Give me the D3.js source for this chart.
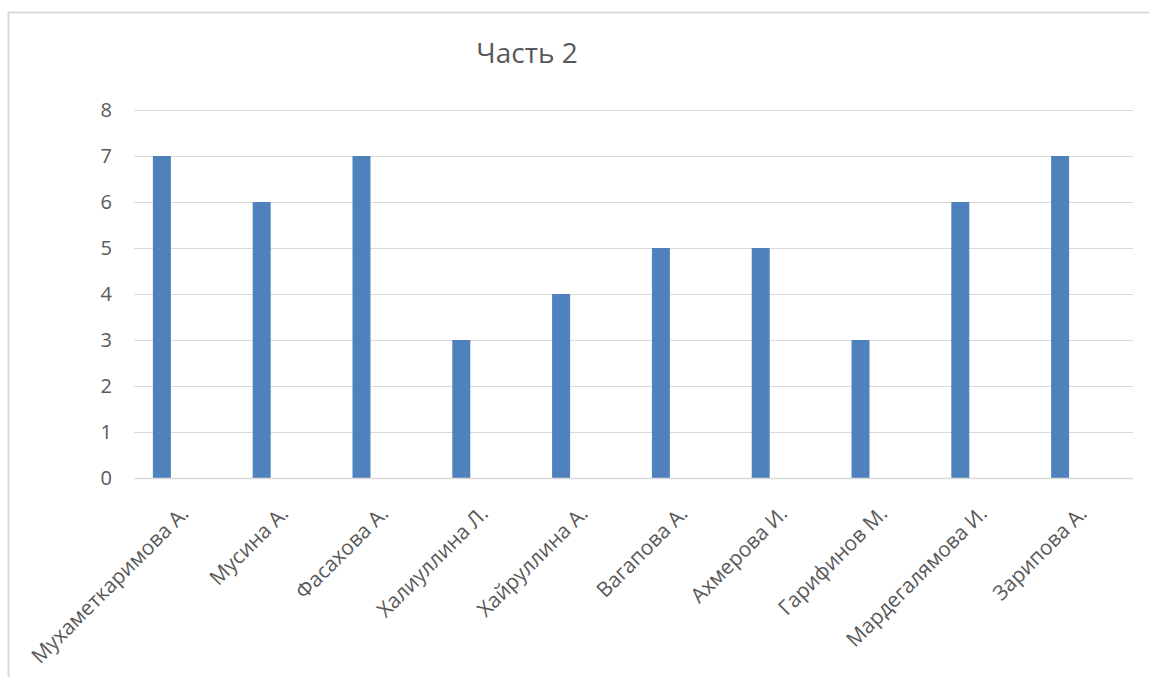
<!DOCTYPE html>
<html><head><meta charset="utf-8">
<script src="https://cdn.jsdelivr.net/npm/d3@7"></script>
<style>body{margin:0;background:#fff;}svg{display:block;}</style>
</head><body>
<svg id="c" width="1149" height="677"></svg>
<script>
const categories = ["Мухаметкаримова А.","Мусина А.","Фасахова А.","Халиуллина Л.","Хайруллина А.","Вагапова А.","Ахмерова И.","Гарифинов М.","Мардегалямова И.","Зарипова А."];
const values = [7,6,7,3,4,5,5,3,6,7];
const yTicks = [0,1,2,3,4,5,6,7,8];
const title = "Часть 2";

const svg = d3.select("#c");
const font = "'Open Sans', 'Noto Sans', sans-serif";
svg.append("rect").attr("x",8.5).attr("y",12.5).attr("width",1160).attr("height",700)
  .attr("fill","#fff").attr("stroke","#d9d9d9").attr("stroke-width",2);

const y = d3.scaleLinear().domain([0,8]).range([478,110]);
const x = d3.scaleBand().domain(categories).range([112,1110]);
const gridX0 = 134, gridX1 = 1133;

svg.append("g").selectAll("line").data(yTicks).join("line")
  .attr("x1",gridX0).attr("x2",gridX1)
  .attr("y1",d=>y(d)+0.5).attr("y2",d=>y(d)+0.5)
  .attr("stroke","#d9d9d9").attr("stroke-width",1);

svg.append("g").selectAll("text").data(yTicks).join("text")
  .attr("x",112).attr("y",d=>y(d)+7).attr("text-anchor","end")
  .attr("font-family",font).attr("font-size",20).attr("fill","#595959")
  .text(d=>d);

const bw = 18;
svg.append("g").selectAll("rect").data(values).join("rect")
  .attr("x",(d,i)=>x(categories[i])+x.bandwidth()/2-bw/2)
  .attr("width",bw)
  .attr("y",d=>y(d)).attr("height",d=>y(0)-y(d))
  .attr("fill","#4F81BD");

svg.append("line").attr("x1",gridX0).attr("x2",gridX1).attr("y1",478.5).attr("y2",478.5)
  .attr("stroke","#d9d9d9").attr("stroke-width",1.5);

svg.append("g").selectAll("text").data(categories).join("text")
  .attr("transform",d=>`translate(${x(d)+x.bandwidth()/2+28},515) rotate(-45)`)
  .attr("text-anchor","end")
  .attr("font-family",font).attr("font-size",20.8).attr("fill","#595959")
  .text(d=>d);

svg.append("text").attr("x",527).attr("y",63).attr("text-anchor","middle")
  .attr("font-family",font).attr("font-size",28).attr("fill","#595959")
  .text(title);
</script>
</body></html>
